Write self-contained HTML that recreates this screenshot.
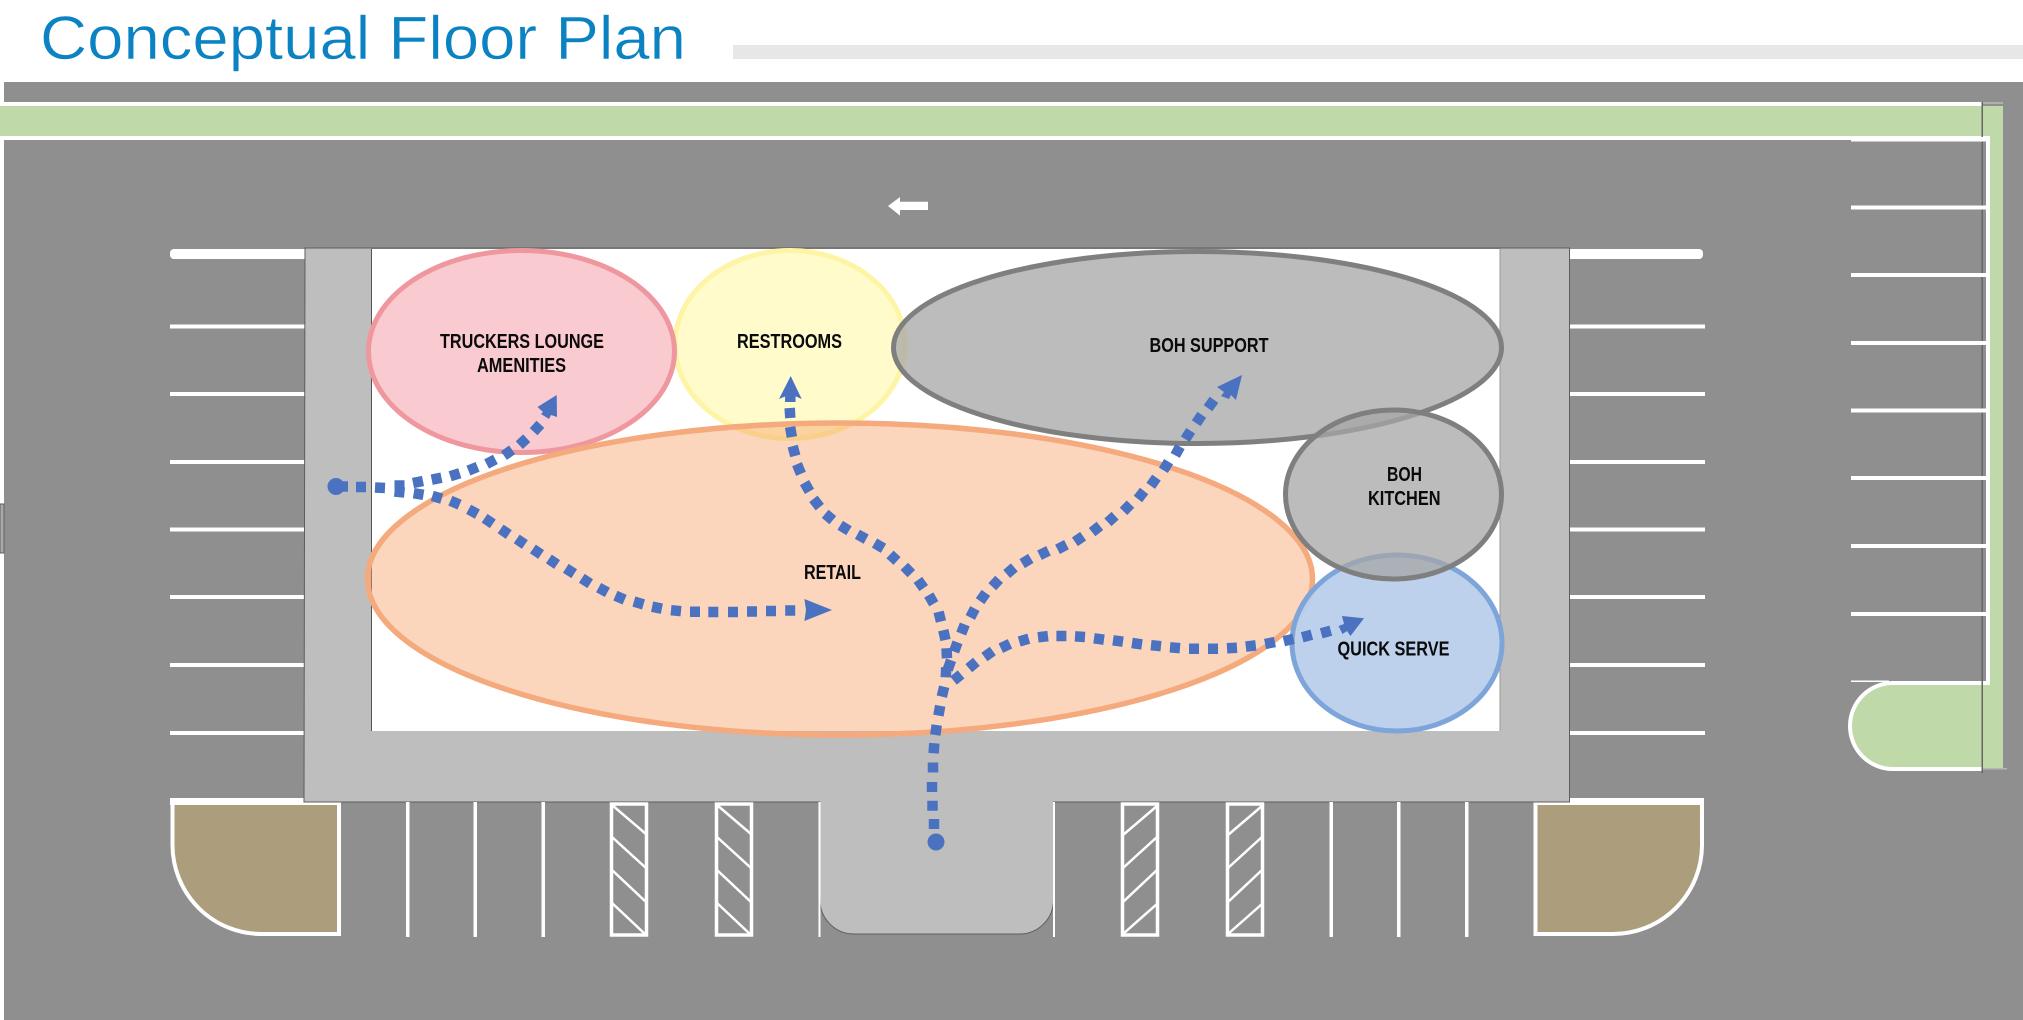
<!DOCTYPE html>
<html><head><meta charset="utf-8"><title>Conceptual Floor Plan</title>
<style>html,body{margin:0;padding:0;background:#fff;width:2023px;height:1020px;overflow:hidden}svg{display:block}</style></head>
<body>
<svg xmlns="http://www.w3.org/2000/svg" width="2023" height="1020" viewBox="0 0 2023 1020">
<rect width="2023" height="1020" fill="#fff"/>
<text x="40" y="59" font-family="'Liberation Sans',sans-serif" font-size="61" fill="#0b82c1" stroke="#fff" stroke-width="0.6" textLength="646" lengthAdjust="spacingAndGlyphs">Conceptual Floor Plan</text>
<rect x="733" y="45" width="1290" height="14" fill="#e7e7e7"/>
<!-- asphalt -->
<rect x="4" y="82" width="2019" height="938" fill="#8f8f8f"/>
<rect x="0" y="504" width="4" height="49" fill="#a9a9a9" stroke="#5f5f5f" stroke-width="1"/>
<!-- green -->
<rect x="0" y="102" width="1982" height="4" fill="#fff"/>
<rect x="0" y="106" width="2003" height="30" fill="#bfd9a8"/>
<rect x="1982" y="102" width="21" height="2" fill="#b0b0b0"/>
<rect x="1988" y="106" width="15" height="662" fill="#bfd9a8"/>
<path d="M1990 683H1893a43 43 0 0 0 0 86H1990Z" fill="#bfd9a8"/>
<rect x="0" y="136" width="1990" height="4" fill="#fff"/>
<path d="M1988 138V683H1893a43 43 0 0 0 0 86H1982" fill="none" stroke="#fff" stroke-width="4"/>
<rect x="1982" y="768" width="25" height="1.500" fill="#b5b5b5"/>
<rect x="1981.500" y="102" width="1.500" height="671" fill="#666"/>
<!-- right stalls -->
<g fill="#fff">
<rect x="1851" y="137" width="135" height="4.500"/>
<rect x="1851" y="205.500" width="135" height="4"/>
<rect x="1851" y="273" width="135" height="4"/>
<rect x="1851" y="341" width="135" height="4"/>
<rect x="1851" y="408.500" width="135" height="4"/>
<rect x="1851" y="476" width="135" height="4"/>
<rect x="1851" y="544" width="135" height="4"/>
<rect x="1851" y="612" width="135" height="4"/>
<rect x="1851" y="680.500" width="38" height="1.500"/>
</g>
<!-- left/right building stalls -->
<g fill="#fff">
<rect x="170" y="249" width="140" height="10" rx="4"/>
<rect x="1565" y="249" width="138" height="10" rx="4"/>
<rect x="170" y="324.500" width="136" height="4"/><rect x="1569" y="324.500" width="136" height="4"/>
<rect x="170" y="392" width="136" height="4"/><rect x="1569" y="392" width="136" height="4"/>
<rect x="170" y="460" width="136" height="4"/><rect x="1569" y="460" width="136" height="4"/>
<rect x="170" y="527.500" width="136" height="4"/><rect x="1569" y="527.500" width="136" height="4"/>
<rect x="170" y="595" width="136" height="4"/><rect x="1569" y="595" width="136" height="4"/>
<rect x="170" y="663" width="136" height="4"/><rect x="1569" y="663" width="136" height="4"/>
<rect x="170" y="731" width="136" height="4"/><rect x="1569" y="731" width="136" height="4"/>
<rect x="170" y="798" width="136" height="7"/><rect x="1569" y="798" width="135" height="7"/>
</g>
<!-- planters -->
<path d="M172.500 803H339V934H262A89 89 0 0 1 172.500 845Z" fill="#ac9e7c" stroke="#fff" stroke-width="4"/>
<path d="M1535.500 803H1702V845A89 89 0 0 1 1613 934H1535.500Z" fill="#ac9e7c" stroke="#fff" stroke-width="4"/>
<!-- building -->
<path d="M305 248H1569.500V802H1053.500V900a34 34 0 0 1 -34 34H854a34 34 0 0 1 -34 -34V802H304Z" fill="#bebebe" stroke="#5d5d5d" stroke-width="1"/>
<rect x="820.500" y="795" width="232.500" height="12" fill="#bebebe"/>
<rect x="371" y="249" width="1129" height="482" fill="#fff"/>
<rect x="371" y="249" width="1" height="482" fill="#555"/>
<rect x="1499.500" y="249" width="1" height="482" fill="#999"/>
<rect x="371" y="248" width="1129" height="1" fill="#777"/>
<!-- bottom stalls -->
<g fill="#fff">
<rect x="406" y="802" width="3.500" height="135"/><rect x="473.500" y="802" width="3.500" height="135"/><rect x="541.500" y="802" width="3.500" height="135"/>
<rect x="1329.500" y="802" width="3.500" height="135"/><rect x="1397" y="802" width="3.500" height="135"/><rect x="1465" y="802" width="3.500" height="135"/>
<rect x="818.500" y="802" width="2" height="135"/><rect x="1053" y="802" width="2" height="135"/>
</g>
<!-- hatched -->
<g fill="none" stroke="#fff" stroke-width="3.500">
<rect x="611.500" y="804" width="35" height="131"/><rect x="716.500" y="804" width="35" height="131"/>
<rect x="1122.500" y="804" width="35" height="131"/><rect x="1227.500" y="804" width="35" height="131"/>
</g>
<g fill="none" stroke="#fff" stroke-width="2.500">
<path d="M612 805L646 834M612 837L646 868M612 870L646 902M612 903L646 935"/>
<path d="M717 805L751 834M717 837L751 868M717 870L751 902M717 903L751 935"/>
<path d="M1123 835L1157 806M1123 868L1157 837M1123 902L1157 870M1123 934L1157 904"/>
<path d="M1228 835L1262 806M1228 868L1262 837M1228 902L1262 870M1228 934L1262 904"/>
</g>
<!-- white arrow -->
<path d="M888 206L900 197V201.700H928V210H900V215.600Z" fill="#fff"/>
<!-- zones -->
<ellipse cx="790" cy="344.500" rx="115" ry="94" fill="#fffbca" stroke="#fdf5a5" stroke-width="5"/>
<ellipse cx="521.500" cy="351.500" rx="153" ry="101" fill="#f9cacf" stroke="#ef979f" stroke-width="5"/>
<ellipse cx="840" cy="579" rx="472.500" ry="156" fill="#f7a26a" fill-opacity=".45" stroke="#f4aa7d" stroke-width="5.500"/>
<ellipse cx="1397" cy="643" rx="105" ry="88" fill="#b9cfeb" fill-opacity=".95" stroke="#7da5d9" stroke-width="5"/>
<ellipse cx="1197.500" cy="347.500" rx="304" ry="96" fill="#a5a5a5" fill-opacity=".75" stroke="#7f7f7f" stroke-width="5"/>
<ellipse cx="1393.500" cy="494.500" rx="108" ry="84.500" fill="#a5a5a5" fill-opacity=".75" stroke="#7f7f7f" stroke-width="5"/>
<!-- labels -->
<g font-family="'Liberation Sans',sans-serif" font-size="20.500" font-weight="bold" fill="#0a0a0a">
<text x="440" y="348" textLength="164" lengthAdjust="spacingAndGlyphs">TRUCKERS LOUNGE</text>
<text x="477" y="372" textLength="89" lengthAdjust="spacingAndGlyphs">AMENITIES</text>
<text x="737" y="348" textLength="105" lengthAdjust="spacingAndGlyphs">RESTROOMS</text>
<text x="1149.500" y="352" textLength="119" lengthAdjust="spacingAndGlyphs">BOH SUPPORT</text>
<text x="1387" y="481" textLength="35" lengthAdjust="spacingAndGlyphs">BOH</text>
<text x="1368" y="505" textLength="72.500" lengthAdjust="spacingAndGlyphs">KITCHEN</text>
<text x="1337.500" y="655.500" textLength="112" lengthAdjust="spacingAndGlyphs">QUICK SERVE</text>
<text x="804" y="579" textLength="57" lengthAdjust="spacingAndGlyphs">RETAIL</text>
</g>
<!-- flow arrows -->
<g fill="#4a72c0">
<circle cx="336" cy="486.500" r="8.500"/>
<ellipse cx="936" cy="842" rx="8.500" ry="8.500"/>
<path d="M556.700 395L537.500 407L543 412L541 414L549 419L551 415L557 417Z"/>
<path d="M832 610L804.400 599L806 610L804.400 621Z"/>
<path d="M790.700 376L779 399L785 396.500H796L801.700 399Z"/>
<path d="M1242 375L1217 387L1224 392L1221 396L1229 399L1231 395L1236 400Z"/>
<path d="M1364 618.300L1342 616L1344 624L1338.500 626L1342.500 634L1347 631L1350.500 636Z"/>
</g>
<g fill="none" stroke="#4a72c0" stroke-width="10.500">
<path d="M341 486.500h7M356 487h10M375 487.500l10 .5M394.500 485.500h10M413 483L423 481M431.700 479.700L441.500 477.700M450.200 476.200L459.800 473.200M468.400 470.600L477.600 466.800M486.600 464L495.400 459.400M503.900 455.600L512.100 449.800M519.300 445.100L526.700 438.300M533.600 431.700L540.400 424.300"/>
<path d="M394.500 491.500L404.500 492.500M413.700 493.200L423.500 494.800M432.300 495.900L441.700 498.700M450.400 500.700L459.600 504.700M468.600 509.300L477.400 514.100M484.600 518.200L492.800 523.800M500.600 528.900L508.800 534.500M516.700 538.900L524.900 544.500M532.900 548.900L541.100 554.500M548.900 558.900L557.100 564.500M565.800 568.300L574.200 573.700M581.800 578.300L590.200 583.700M598.600 587.600L607.400 592.400M615.400 595.700L624.600 599.700M633.900 601.600L643.500 604.400M652.100 606.700L661.900 608.700M671 610.200L681 611.200M690 611.700h10M708.300 612h10M728 612h10M747 611.500h10M766 611h10M785.200 610.500h10"/>
<path d="M934 829v-10M932.500 810.700v-10M932 792v-10M933 772.500v-10M933.600 753.300l.7 -10M935.300 735l1.400 -10M938.400 715.600l1.800 -9.800M941.800 696.600l2.400 -9.800"/>
<path d="M945.800 677.300l.4 -10M947 658.300l-.5 -10M945.500 640l-2.200 -9.800M941 621.500l-2.400 -9.600M933.800 603.700l-5 -8.700M923.700 588.100l-5.800 -8.200M911.300 573.600l-7 -7.200M897 561l-7 -6.600M883.500 548.300l-9 -5.200M866.200 539.100l-8.800 -4.800M849 530.700l-8.800 -5.400M832.800 520.200l-7.600 -6.400M819.800 507.100l-6.400 -8.200M809.500 491.400l-5 -8.800M801 473.800l-4 -9.600M795.300 455.900l-2.600 -9.800M791.900 437l-1.800 -10M790.300 418l-.6 -10M790.300 402v-7"/>
<path d="M947.700 669.800l3.400 -9.600M954.100 651.700l3.400 -9.400M961.200 633.600l3.600 -9.200M970.300 617.400l4.600 -8.800M980.100 601.100l5.800 -8.200M992.300 586.700l6.800 -7.400M1006.700 574l7.600 -6.600M1022.200 563.600l8.600 -5.200M1039.500 555.200l9 -4.400M1057.500 549.300l9 -4.600M1074.900 541.800l8.200 -5.600M1092.100 532.100l7.800 -6.200M1107.900 522.300l7.200 -6.600M1123.500 511.300l7 -7.200M1137.900 499l6.200 -8M1150.700 485.800l5.800 -8.200M1163.400 470.300l5.200 -8.600M1175.200 455.400l4.800 -8.800M1185.300 439.200l5.400 -8.400M1196.200 423.200l5.600 -8.400M1208 408.200l6 -8.400"/>
<path d="M953.500 680.600l7.600 -6.200M968.800 668.200l7.600 -6.400M984.400 657l8.400 -6M1000.800 648.200l9.200 -4.400M1019.200 641.500l9.600 -2.800M1038 637.300l10 -1.200M1056.400 636h10M1075 636.400l10 .6M1094 638.300l10 1.400M1113 640.300l10 1.400M1132 643l10 1.400M1151 645.200l10 1M1170 647.300l10 .8M1189 648.700h10M1208 648.700h10M1227 648.300l10 -.6M1245.800 646.600l10 -1.200M1265.100 644l9.800 -2M1283.800 641.200l9.800 -2.400M1302.200 637.300l9.600 -2.600M1321.200 633.300l9.600 -2.600"/>
</g>
</svg>
</body></html>
